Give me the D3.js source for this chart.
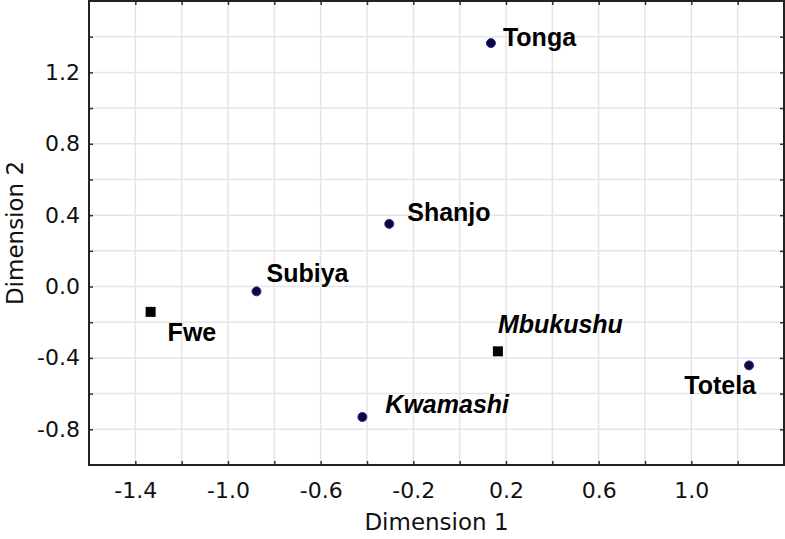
<!DOCTYPE html>
<html lang="en">
  <head>
    <meta charset="UTF-8" />
    <title>MDS plot</title>
    <style>
      body {
        margin: 0;
        background: #fff;
      }
    </style>
  </head>
  <body>
    <script src="https://cdn.jsdelivr.net/npm/d3@7"></script>
    <script>
      // data
      const names = ["Tonga", "Shanjo", "Subiya", "Fwe", "Kwamashi", "Mbukushu", "Totela"];
      const dim1 = [0.135, -0.304, -0.877, -1.334, -0.42, 0.165, 1.249];
      const dim2 = [1.364, 0.351, -0.027, -0.142, -0.731, -0.363, -0.442];
      const shapes = ["circle", "circle", "circle", "square", "circle", "square", "circle"];
      const italic = [false, false, false, false, true, true, false];

      const xTicks = [-1.4, -1.2, -1.0, -0.8, -0.6, -0.4, -0.2, 0, 0.2, 0.4, 0.6, 0.8, 1.0, 1.2];
      const xTickLabels = ["-1.4", "", "-1.0", "", "-0.6", "", "-0.2", "", "0.2", "", "0.6", "", "1.0", ""];
      const yTicks = [-0.8, -0.6, -0.4, -0.2, 0, 0.2, 0.4, 0.6, 0.8, 1.0, 1.2, 1.4];
      const yTickLabels = ["-0.8", "", "-0.4", "", "0.0", "", "0.4", "", "0.8", "", "1.2", ""];

      // label placement (pixels from the marker)
      const labelOffsets = [
        { dx: 12, dy: 3, anchor: "start" },
        { dx: 18, dy: -3, anchor: "start" },
        { dx: 10, dy: -9, anchor: "start" },
        { dx: 17, dy: 29, anchor: "start" },
        { dx: 23, dy: -4, anchor: "start" },
        { dx: 0, dy: -18, anchor: "start" },
        { dx: 7, dy: 29, anchor: "end" },
      ];

      const width = 785;
      const height = 539;
      const plotLeft = 89, plotRight = 784, plotTop = 1, plotBottom = 465;
      const axisFont = "'DejaVu Sans', sans-serif";
      const labelFont = "'Liberation Sans', Arial, sans-serif";

      const x = d3.scaleLinear().domain([-1.6, 1.4]).range([plotLeft, plotRight]);
      const y = d3.scaleLinear().domain([-1.0, 1.6]).range([plotBottom, plotTop]);

      const svg = d3
        .select("body")
        .append("svg")
        .attr("width", width)
        .attr("height", height);

      // grid
      svg
        .append("g")
        .selectAll("line")
        .data(xTicks)
        .join("line")
        .attr("x1", (d) => x(d))
        .attr("x2", (d) => x(d))
        .attr("y1", plotTop)
        .attr("y2", plotBottom)
        .attr("stroke", "#e5e5e5")
        .attr("stroke-width", 1.5);
      svg
        .append("g")
        .selectAll("line")
        .data(yTicks)
        .join("line")
        .attr("y1", (d) => y(d))
        .attr("y2", (d) => y(d))
        .attr("x1", plotLeft)
        .attr("x2", plotRight)
        .attr("stroke", "#e5e5e5")
        .attr("stroke-width", 1.5);

      const xLabel = (d) => xTickLabels[xTicks.indexOf(d)];
      const yLabel = (d) => yTickLabels[yTicks.indexOf(d)];

      const styleAxis = (g) => {
        g.select(".domain").remove();
        g.selectAll(".tick line").attr("stroke", "#333").attr("stroke-width", 1.5);
        g.selectAll(".tick text")
          .style("font-size", "22px")
          .style("font-family", axisFont)
          .attr("fill", "#111");
      };

      // axes with inward ticks
      svg
        .append("g")
        .attr("transform", `translate(0,${plotBottom})`)
        .call(d3.axisBottom(x).tickValues(xTicks).tickFormat(xLabel).tickSize(-4).tickPadding(17))
        .call(styleAxis);
      svg
        .append("g")
        .attr("transform", `translate(0,${plotTop})`)
        .call(d3.axisTop(x).tickValues(xTicks).tickFormat("").tickSize(-4))
        .call(styleAxis);
      svg
        .append("g")
        .attr("transform", `translate(${plotLeft},0)`)
        .call(d3.axisLeft(y).tickValues(yTicks).tickFormat(yLabel).tickSize(-4).tickPadding(9))
        .call(styleAxis);
      svg
        .append("g")
        .attr("transform", `translate(${plotRight},0)`)
        .call(d3.axisRight(y).tickValues(yTicks).tickFormat("").tickSize(-4))
        .call(styleAxis);

      // frame
      svg
        .append("rect")
        .attr("x", plotLeft)
        .attr("y", plotTop)
        .attr("width", plotRight - plotLeft)
        .attr("height", plotBottom - plotTop)
        .attr("fill", "none")
        .attr("stroke", "#222")
        .attr("stroke-width", 2);

      // axis titles
      svg
        .append("text")
        .attr("x", (plotLeft + plotRight) / 2)
        .attr("y", 530)
        .attr("text-anchor", "middle")
        .style("font-family", axisFont)
        .style("font-size", "23px")
        .attr("fill", "#111")
        .text("Dimension 1");
      svg
        .append("text")
        .attr("transform", `translate(23,${(plotTop + plotBottom) / 2}) rotate(-90)`)
        .attr("text-anchor", "middle")
        .style("font-family", axisFont)
        .style("font-size", "23px")
        .attr("fill", "#111")
        .text("Dimension 2");

      const points = names.map((n, i) => ({
        name: n,
        x: dim1[i],
        y: dim2[i],
        shape: shapes[i],
        italic: italic[i],
        off: labelOffsets[i],
      }));

      const pts = svg.append("g");
      pts
        .selectAll("circle")
        .data(points.filter((d) => d.shape === "circle"))
        .join("circle")
        .attr("cx", (d) => x(d.x))
        .attr("cy", (d) => y(d.y))
        .attr("r", 4.5)
        .attr("fill", "#0a0a3c")
        .attr("stroke", "#2b2b9c")
        .attr("stroke-width", 1);
      pts
        .selectAll("rect")
        .data(points.filter((d) => d.shape === "square"))
        .join("rect")
        .attr("x", (d) => x(d.x) - 5)
        .attr("y", (d) => y(d.y) - 5)
        .attr("width", 10)
        .attr("height", 10)
        .attr("fill", "#000");

      svg
        .append("g")
        .selectAll("text")
        .data(points)
        .join("text")
        .attr("x", (d) => x(d.x) + d.off.dx)
        .attr("y", (d) => y(d.y) + d.off.dy)
        .attr("text-anchor", (d) => d.off.anchor)
        .style("font-family", labelFont)
        .style("font-size", "25px")
        .style("font-weight", "bold")
        .style("font-style", (d) => (d.italic ? "italic" : "normal"))
        .attr("fill", "#000")
        .text((d) => d.name);
    </script>
  </body>
</html>
